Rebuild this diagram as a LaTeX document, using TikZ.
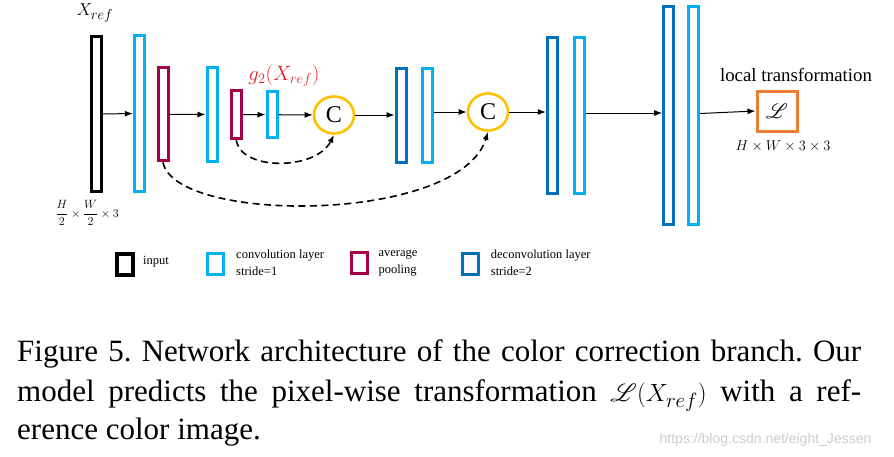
\documentclass[tikz,border=0pt]{standalone}
\usepackage{fontspec}
\setmainfont{Liberation Serif}
\newfontfamily\wmfont{Liberation Sans}
\usepackage{mathrsfs}
\usetikzlibrary{arrows.meta,shapes.geometric}
\definecolor{cyanL}{RGB}{0,176,240}
\definecolor{poolC}{RGB}{165,0,72}
\definecolor{deconvC}{RGB}{0,112,192}
\definecolor{circC}{RGB}{255,192,0}
\definecolor{orangeL}{RGB}{237,125,49}
\definecolor{redL}{RGB}{232,32,40}
\frenchspacing
\begin{document}
\begin{tikzpicture}[x=1pt,y=-1pt,
  bar/.style={rectangle, draw, line width=3pt, minimum width=10pt, inner sep=0pt},
  inbar/.style={bar, draw=black},
  convbar/.style={bar, draw=cyanL},
  poolbar/.style={bar, draw=poolC},
  deconvbar/.style={bar, draw=deconvC},
  catnode/.style={ellipse, draw=circC, line width=2.6pt, minimum width=40pt, minimum height=37pt, inner sep=0pt, font=\fontsize{24}{28}\selectfont},
  arr/.style={-{Latex[length=8pt,width=6pt]}, line width=1pt},
  dsharr/.style={-{Latex[length=8pt,width=6pt]}, line width=1.6pt, dash pattern=on 7pt off 4.5pt},
  legsq/.style={rectangle, line width=3.5pt, minimum width=16pt, minimum height=21pt, inner sep=0pt},
  legtxt/.style={anchor=west, inner sep=0pt, align=left, font=\fontsize{12.5}{17}\selectfont},
  captxt/.style={anchor=base west, inner sep=0pt, font=\fontsize{31}{36}\selectfont}
]
\useasboundingbox (0,0) rectangle (894,456);

% bars
\node[inbar, minimum height=155pt] (in) at (96,114) {};
\node[convbar, minimum height=156pt] (c1) at (139.3,113.5) {};
\node[poolbar, minimum height=93pt] (p1) at (163,114.3) {};
\node[convbar, minimum height=94pt] (c2) at (212,114.5) {};
\node[poolbar, minimum height=48pt] (p2) at (236.3,114.5) {};
\node[convbar, minimum height=46pt] (c3) at (272,114.7) {};
\node[catnode] (C1) at (334,115) {C};
\node[deconvbar, minimum height=94pt] (d1) at (401,115.5) {};
\node[convbar, minimum height=94pt] (c4) at (427,115.5) {};
\node[catnode] (C2) at (488,112) {C};
\node[deconvbar, minimum height=156pt] (d2) at (552.3,115.5) {};
\node[convbar, minimum height=156pt] (c5) at (579.3,115.5) {};
\node[deconvbar, minimum height=218pt] (d3) at (668.7,115.5) {};
\node[convbar, minimum height=218pt] (c6) at (693.7,115.5) {};
\node[rectangle, draw=orangeL, line width=3pt, minimum size=40pt, inner sep=0pt, font=\fontsize{22}{26}\selectfont] (L) at (777,111) {$\mathscr{L}$};

% labels
\node[font=\fontsize{19}{22}\selectfont] (xref) at (95,13) {$X_{ref}$};
\node[font=\fontsize{20}{24}\selectfont, text=redL] (g2) at (284,76) {$g_2(X_{ref})$};
\node[font=\fontsize{13}{15}\selectfont] (insize) at (87,213) {$\displaystyle\frac{H}{2}\times\frac{W}{2}\times 3$};
\node[font=\fontsize{18.8}{22}\selectfont] (loc) at (796,75) {local transformation};
\node[font=\fontsize{13.5}{16}\selectfont] (outsize) at (783,146.5) {$H\times W\times 3\times 3$};

% arrows
\draw[arr] (in) -- (c1);
\draw[arr] (p1) -- (c2);
\draw[arr] (p2) -- (c3);
\draw[arr] (c3) -- (C1);
\draw[arr] (C1.east) -- (C1.east -| d1.west);
\draw[arr] (c4.east |- C2.west) -- (C2.west);
\draw[arr] (C2.east) -- (C2.east -| d2.west);
\draw[arr] (c5.east |- 0,113) -- (d3.west |- 0,113);
\draw[arr] (c6.east |- 0,113.5) -- (L.west);

% skip connections
\draw[dsharr] (p2.south) .. controls +(4,31) and +(-18,36) .. (C1.south);
\draw[dsharr] (p1.south) .. controls +(12,62) and +(-28,92) .. (C2.south);

% legend
\node[legsq, draw=black] (lgin) at (125,264.5) {};
\node[legtxt] (lgint) at (143,261.5) {input};
\node[legsq, draw=cyanL] (lgcv) at (215.3,264) {};
\node[legtxt] (lgcvt) at (236,262.5) {convolution layer\\stride=1};
\node[legsq, draw=poolC] (lgpl) at (359.7,263) {};
\node[legtxt] (lgplt) at (378.3,263) {average\\pooling};
\node[legsq, draw=deconvC] (lgdc) at (470.3,264) {};
\node[legtxt] (lgdct) at (490.7,262.5) {deconvolution layer\\stride=2};

% caption
\node[captxt] (cap1) at (17,361.7) {\makebox[844pt][s]{Figure 5. Network architecture of the color correction branch. Our}};
\node[captxt] (cap2) at (17,401.7) {\makebox[844pt][s]{model predicts the pixel-wise transformation $\mathscr{L}(X_{ref})$ with a ref-}};
\node[captxt] (cap3) at (17,439.5) {erence color image.};
\node[anchor=base, inner sep=0pt, text=black!20, font=\wmfont\fontsize{14}{16}\selectfont] (wm) at (765.5,443) {https://blog.csdn.net/eight\_Jessen};
\end{tikzpicture}
\end{document}
